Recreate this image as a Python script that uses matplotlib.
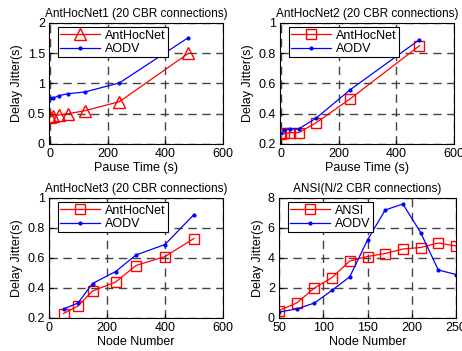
import numpy as np
import matplotlib
matplotlib.use('Agg')
import matplotlib.pyplot as plt

plt.rcParams['font.family'] = ['Liberation Sans', 'DejaVu Sans']
plt.rcParams['font.size'] = 9

# data
pause = [0, 10, 30, 60, 120, 240, 480]
ant1 = [0.45, 0.46, 0.48, 0.50, 0.55, 0.70, 1.50]
aodv1 = [0.76, 0.76, 0.80, 0.83, 0.86, 1.01, 1.76]

ant2 = [0.265, 0.27, 0.275, 0.275, 0.34, 0.50, 0.85]
aodv2 = [0.27, 0.29, 0.30, 0.30, 0.37, 0.56, 0.89]

nodes3 = [50, 100, 150, 230, 300, 400, 500]
ant3 = [0.23, 0.28, 0.38, 0.44, 0.55, 0.61, 0.73]
aodv3 = [0.26, 0.30, 0.43, 0.51, 0.62, 0.69, 0.89]

nodes4 = [50, 70, 90, 110, 130, 150, 170, 190, 210, 230, 250]
ansi4 = [0.5, 1.0, 2.0, 2.7, 3.8, 4.1, 4.3, 4.6, 4.7, 5.0, 4.8]
aodv4 = [0.4, 0.6, 1.0, 1.85, 2.75, 5.2, 7.2, 7.6, 5.7, 3.2, 2.9]

fig = plt.figure(figsize=(4.62, 3.51), dpi=100)

def setup(ax, title, xlabel, xlim, ylim, xt, yt):
    ax.set_title(title, fontsize=8.5, pad=4)
    ax.set_xlabel(xlabel, labelpad=1)
    ax.set_ylabel('Delay Jitter(s)', labelpad=3)
    ax.set_xlim(xlim)
    ax.set_ylim(ylim)
    ax.set_xticks(xt)
    ax.set_yticks(yt)
    ax.tick_params(direction='in', length=3, pad=3)
    ax.grid(True, color='#444444', linestyle=(0, (6, 4)), linewidth=1.0)
    for s in ax.spines.values():
        s.set_linewidth(0.8)

# panel positions in pixels (left, top, right, bottom) -> figure fractions
W, H = 462., 351.
def pos(l, t, r, b):
    return [l / W, 1 - b / H, (r - l) / W, (b - t) / H]

ax1 = fig.add_axes(pos(49, 23, 223, 144))
ax1.plot(pause, ant1, 'r-^', mfc='none', ms=8, lw=0.9, label='AntHocNet')
ax1.plot(pause, aodv1, 'b.-', ms=4, lw=0.9, label='AODV')
setup(ax1, 'AntHocNet1 (20 CBR connections)', 'Pause Time (s)', (-5, 600), (0, 2),
      [0, 200, 400, 600], [0, 0.5, 1, 1.5, 2])
ax1.set_yticklabels(['0', '0.5', '1', '1.5', '2'])

ax2 = fig.add_axes(pos(280, 23, 454, 144))
ax2.plot(pause, ant2, 'r-s', mfc='none', ms=7, lw=0.9, label='AntHocNet')
ax2.plot(pause, aodv2, 'b.-', ms=4, lw=0.9, label='AODV')
setup(ax2, 'AntHocNet2 (20 CBR connections)', 'Pause Time (s)', (-5, 600), (0.2, 1),
      [0, 200, 400, 600], [0.2, 0.4, 0.6, 0.8, 1])
ax2.set_yticklabels(['0.2', '0.4', '0.6', '0.8', '1'])

ax3 = fig.add_axes(pos(49, 198, 223, 318))
ax3.plot(nodes3, ant3, 'r-s', mfc='none', ms=7, lw=0.9, label='AntHocNet')
ax3.plot(nodes3, aodv3, 'b.-', ms=4, lw=0.9, label='AODV')
setup(ax3, 'AntHocNet3 (20 CBR connections)', 'Node Number', (0, 600), (0.2, 1),
      [0, 200, 400, 600], [0.2, 0.4, 0.6, 0.8, 1])
ax3.set_yticklabels(['0.2', '0.4', '0.6', '0.8', '1'])

ax4 = fig.add_axes(pos(279, 198, 456, 318))
ax4.plot(nodes4, ansi4, 'r-s', mfc='none', ms=7, lw=0.9, label='ANSI')
ax4.plot(nodes4, aodv4, 'b.-', ms=4, lw=0.9, label='AODV')
setup(ax4, 'ANSI(N/2 CBR connections)', 'Node Number', (50, 250), (0, 8),
      [50, 100, 150, 200, 250], [0, 2, 4, 6, 8])

for ax in (ax1, ax2, ax3, ax4):
    leg = ax.legend(loc='upper left', bbox_to_anchor=(0.05, 0.965), fancybox=False,
                    edgecolor='black', framealpha=1, handlelength=3.2,
                    borderpad=0.2, labelspacing=0.1, handletextpad=0.4,
                    fontsize=9, borderaxespad=0)
    leg.get_frame().set_linewidth(0.8)

fig.savefig('out.png', dpi=100)
